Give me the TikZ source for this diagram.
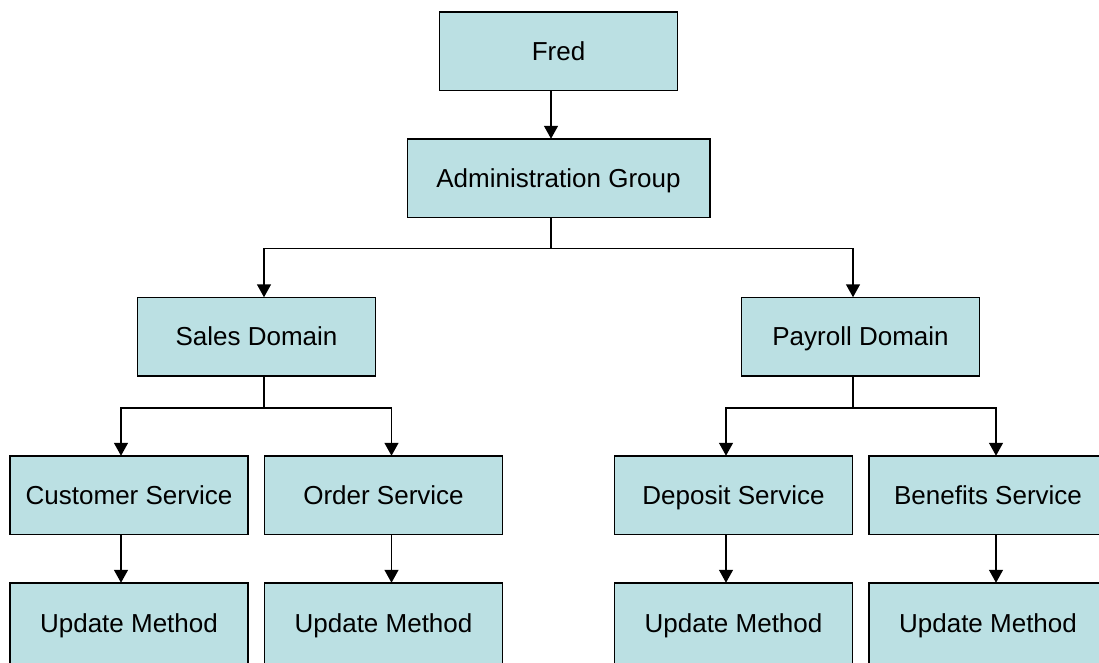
\documentclass[tikz,border=0pt]{standalone}
\usepackage{fontspec}
\setmainfont{Liberation Sans}
\usetikzlibrary{positioning, arrows.meta}
\definecolor{boxfill}{RGB}{187,224,227}

\begin{document}
\begin{tikzpicture}[x=1pt, y=1pt, node distance=80pt and 16.5pt, line width=1.5pt,
    >={Triangle[width=14pt, length=13pt]},
    every node/.style={draw, fill=boxfill, minimum width=238pt, minimum height=78.5pt,
      outer sep=0pt, text height=21pt, text depth=3pt,
      font=\fontsize{26}{30}\selectfont},
    method/.style={minimum height=82pt}]
            \path[use as bounding box, clip] (0,0) rectangle (1099,-662);
            \node (fred) at (558.5,-51) {Fred};
            \node[below=48.5pt of fred, minimum width=302.5pt] (admin) {Administration Group};
            \node[below=of admin, xshift=-302pt] (sales) {Sales Domain};
            \node[below=of admin, xshift=302pt] (payroll) {Payroll Domain};
            \node[below=of sales, xshift=-127.5pt] (cust) {Customer Service};
            \node[right=of cust] (order) {Order Service};
            \node[below=of payroll, xshift=-127pt] (deposit) {Deposit Service};
            \node[right=of deposit] (benefits) {Benefits Service};
            \node[method, below=48.5pt of cust] (custupd) {Update Method};
            \node[method, below=48.5pt of order] (orderupd) {Update Method};
            \node[method, below=48.5pt of deposit] (depositupd) {Update Method};
            \node[method, below=48.5pt of benefits] (benefitsupd) {Update Method};
            % top of the tree
            \draw[->] ([xshift=-7.5pt]fred.south) -- ([xshift=-7.5pt]admin.north);
            \draw[->] ([xshift=-7.5pt]admin.south) -- ++(0,-31) -| ([xshift=7.5pt]sales.north);
            \draw[->] ([xshift=-7.5pt]admin.south) -- ++(0,-31) -| ([xshift=-7.5pt]payroll.north);
            % domains to services
            \draw[->] ([xshift=7.5pt]sales.south) -- ++(0,-32) -| ([xshift=-8pt]cust.north);
            \draw[->] ([xshift=7.5pt]sales.south) -- ++(0,-32) -| ([xshift=8pt]order.north);
            \draw[->] ([xshift=-7.5pt]payroll.south) -- ++(0,-32) -| ([xshift=-7.5pt]deposit.north);
            \draw[->] ([xshift=-7.5pt]payroll.south) -- ++(0,-32) -| ([xshift=8pt]benefits.north);
            % services to methods
            \draw[->] ([xshift=-8pt]cust.south) -- ([xshift=-8pt]custupd.north);
            \draw[->] ([xshift=8pt]order.south) -- ([xshift=8pt]orderupd.north);
            \draw[->] ([xshift=-7.5pt]deposit.south) -- ([xshift=-7.5pt]depositupd.north);
            \draw[->] ([xshift=8pt]benefits.south) -- ([xshift=8pt]benefitsupd.north);
\end{tikzpicture}
\end{document}
